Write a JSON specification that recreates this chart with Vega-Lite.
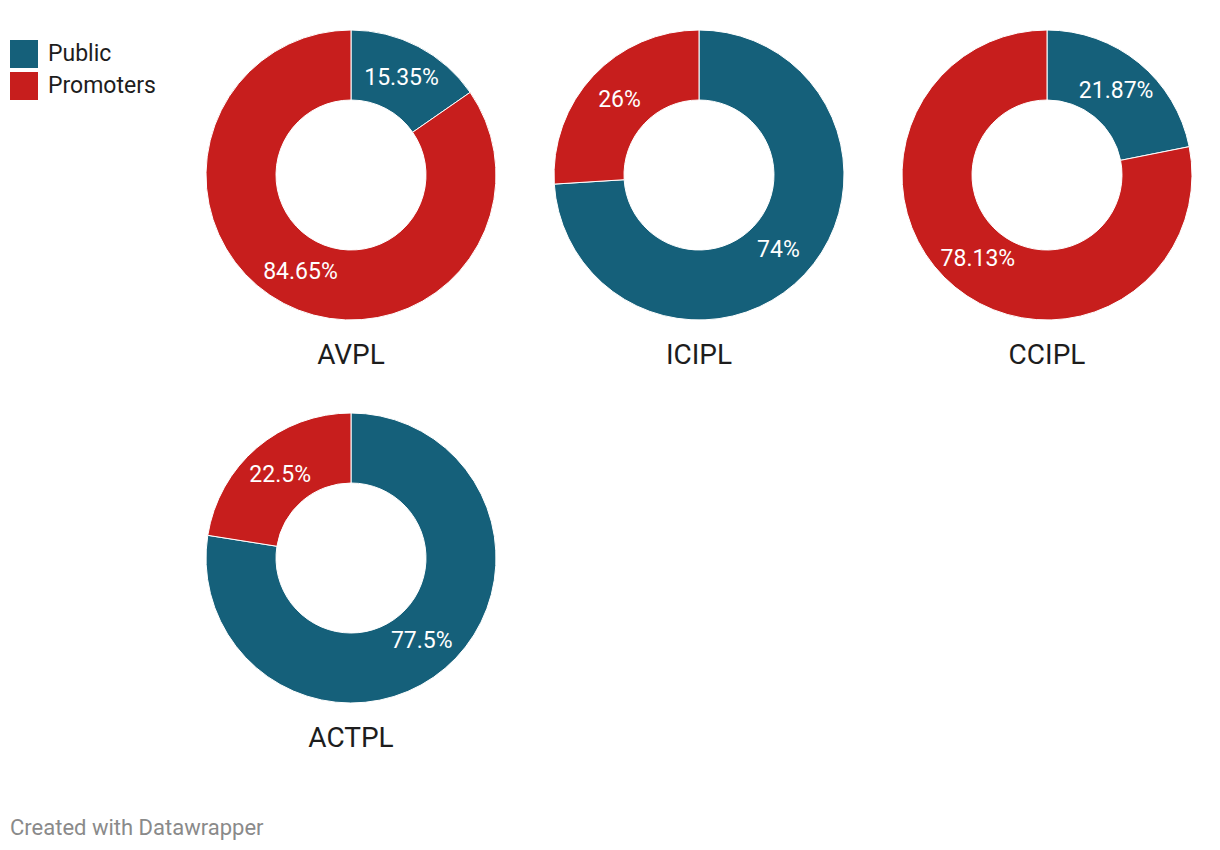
{
  "$schema": "https://vega.github.io/schema/vega-lite/v6.json",
  "padding": {"left": 10, "top": 28, "right": 10, "bottom": 10},
  "background": "white",
  "config": {"view": {"stroke": null}, "font": "Roboto"},
  "title": {"text": "Created with Datawrapper", "orient": "bottom", "anchor": "start", "frame": "bounds", "fontSize": 22, "fontWeight": "normal", "color": "#8a8a8a", "font": "Roboto", "offset": 65},
  "data": {"values": [
    {"company": "AVPL", "holder": "Public", "share": 0.1535, "ord": 1},
    {"company": "AVPL", "holder": "Promoters", "share": 0.8465, "ord": 2},
    {"company": "ICIPL", "holder": "Public", "share": 0.74, "ord": 1},
    {"company": "ICIPL", "holder": "Promoters", "share": 0.26, "ord": 2},
    {"company": "CCIPL", "holder": "Public", "share": 0.2187, "ord": 1},
    {"company": "CCIPL", "holder": "Promoters", "share": 0.7813, "ord": 2},
    {"company": "ACTPL", "holder": "Public", "share": 0.775, "ord": 1},
    {"company": "ACTPL", "holder": "Promoters", "share": 0.225, "ord": 2}
  ]},
  "facet": {"field": "company", "type": "nominal", "sort": ["AVPL", "ICIPL", "CCIPL", "ACTPL"],
    "header": {"title": null, "labelOrient": "bottom", "labelFontSize": 28, "labelFont": "Roboto", "labelColor": "#1d1d1d", "labelPadding": 20}},
  "columns": 3,
  "spacing": {"row": 41, "column": 54},
  "spec": {
    "width": 290,
    "height": 290,
    "encoding": {
      "theta": {"field": "share", "type": "quantitative", "stack": true},
      "order": {"field": "ord", "type": "quantitative"}
    },
    "layer": [
      {"mark": {"type": "arc", "outerRadius": 145, "innerRadius": 75, "stroke": "white", "strokeWidth": 1},
       "encoding": {"color": {"field": "holder", "type": "nominal", "scale": {"domain": ["Public", "Promoters"], "range": ["#15607a", "#c71e1d"]},
         "legend": {"title": null, "orient": "none", "legendX": -196, "legendY": 10, "symbolType": "square", "symbolSize": 784, "symbolStrokeWidth": 0, "labelFontSize": 23, "labelFont": "Roboto", "labelColor": "#1d1d1d", "labelOffset": 10, "rowPadding": 4, "padding": 0}}}},
      {"mark": {"type": "text", "radius": 109, "fontSize": 23, "font": "Roboto", "color": "white"},
       "encoding": {"text": {"field": "share", "type": "quantitative", "format": ".2~%"}}}
    ]
  }
}
